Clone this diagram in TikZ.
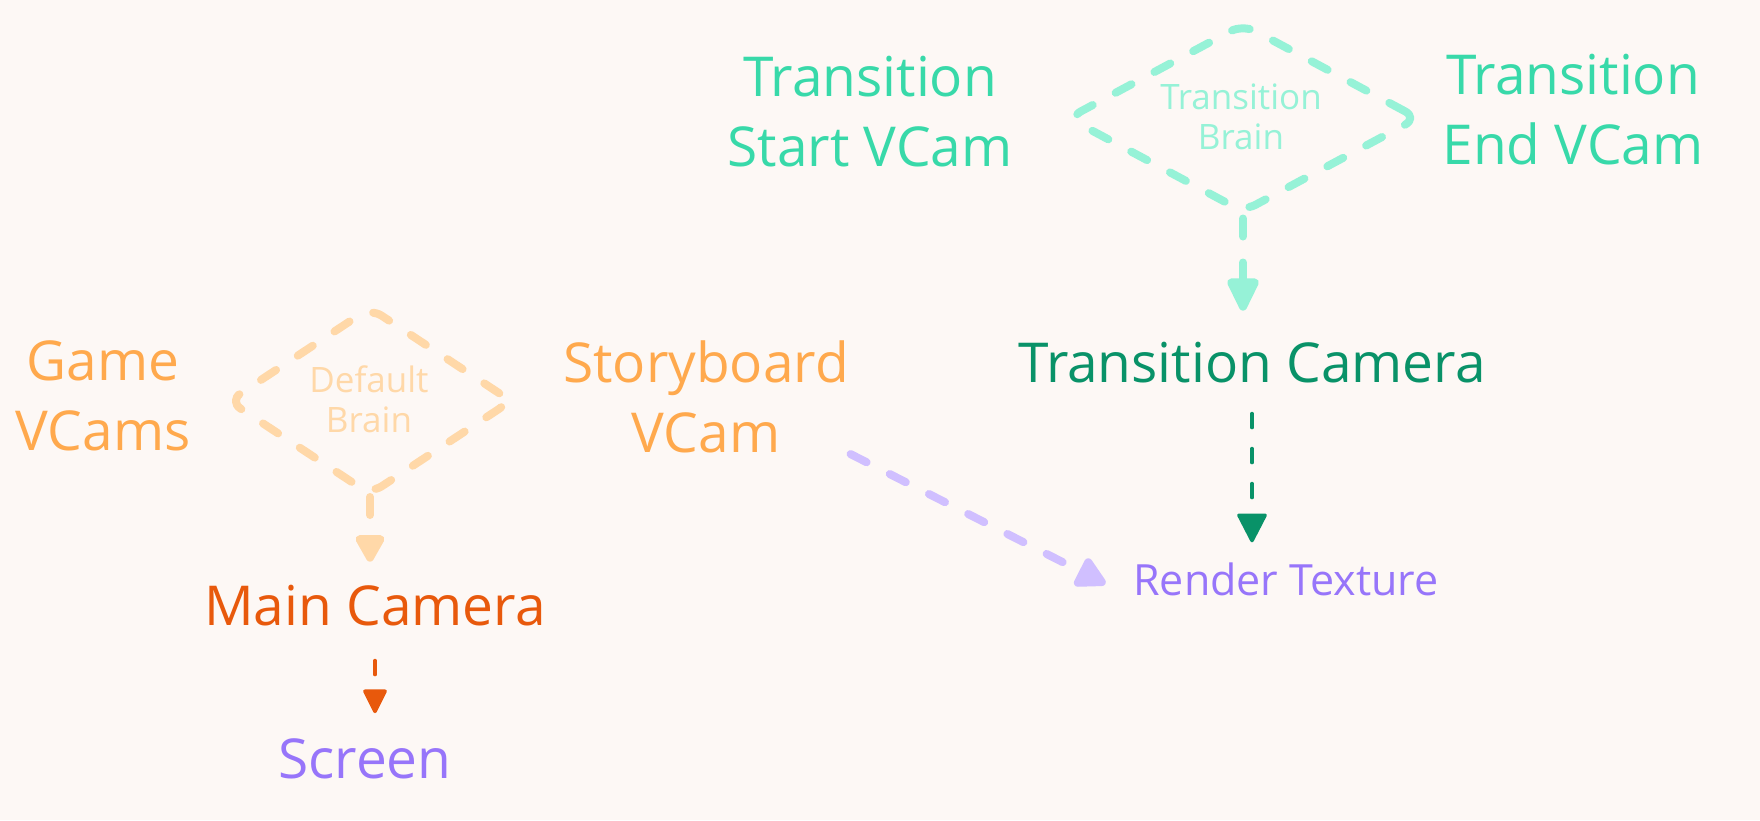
\documentclass[tikz,border=0pt]{standalone}
\usepackage{fontspec}
\setmainfont{Open Sans}
\usetikzlibrary{arrows.meta,shapes.geometric}
\definecolor{bgc}{HTML}{FDF8F5}
\definecolor{cTeal}{HTML}{38D9A9}
\definecolor{cTealLight}{HTML}{96F2D7}
\definecolor{cTealDark}{HTML}{099268}
\definecolor{cOrange}{HTML}{FFA94D}
\definecolor{cOrangeLight}{HTML}{FFD8A8}
\definecolor{cOrangeDark}{HTML}{E8590C}
\definecolor{cViolet}{HTML}{9775FA}
\definecolor{cVioletLight}{HTML}{D0BFFF}
\begin{document}
\begin{tikzpicture}[x=1pt,y=-1pt,
  big/.style={font=\fontsize{55}{70}\selectfont, inner sep=0pt, outer sep=0pt, align=center},
  medium/.style={font=\fontsize{43}{52}\selectfont, inner sep=0pt, outer sep=0pt},
  small/.style={font=\fontsize{35}{40}\selectfont, inner sep=0pt, outer sep=0pt, align=center},
  brainbox/.style={shape=diamond, draw, line width=8pt, dash pattern=on 18pt off 26pt,
    line cap=round, line join=round, rounded corners=14pt, inner sep=0pt, outer sep=0pt},
  thickarrow/.style={line width=8pt, dash pattern=on 18pt off 26pt, line cap=round},
  thinarrow/.style={line width=3.5pt, dash pattern=on 14pt off 21pt, line cap=round}
]
\fill[bgc] (0,0) rectangle (1760,820);
\useasboundingbox (0,0) rectangle (1760,820);

% top group
\node[brainbox, draw=cTealLight, minimum width=349pt, minimum height=187pt] (tb) at (1243,118) {};
\node[small, text=cTealLight] (tbt) at (1241,117) {Transition\\Brain};
\node[big, text=cTeal] (ts) at (870,112) {Transition\\Start VCam};
\node[big, text=cTeal] (te) at (1573,110) {Transition\\End VCam};
\node[big, text=cTealDark, anchor=base] (tc) at (1252,382) {Transition Camera};
\node[medium, text=cViolet, anchor=base] (rt) at (1286,595) {Render Texture};

% left group
\node[big, text=cOrange] (gv) at (103,396) {Game\\VCams};
\node[brainbox, draw=cOrangeLight, minimum width=282pt, minimum height=186pt] (db) at (370,401) {};
\node[small, text=cOrangeLight] (dbt) at (369,399) {Default\\Brain};
\node[big, text=cOrange] (sv) at (706,397) {Storyboard\\VCam};
\node[big, text=cOrangeDark, anchor=base] (mc) at (375,625) {Main Camera};
\node[big, text=cViolet, anchor=base] (sc) at (365,778) {Screen};

% connectors
\draw[thickarrow, cTealLight, -{Triangle[length=38pt,width=34pt,round]}, shorten <=7pt, shorten >=31pt]
  (tb.south) -- (tb.south |- tc.north);
\draw[thinarrow, cTealDark, -{Triangle[length=31pt,width=31pt,round]}, shorten <=31pt, shorten >=20pt]
  (tc.south) -- (tc.south |- rt.north);
\draw[thickarrow, cOrangeLight, -{Triangle[length=31pt,width=32pt,round]}, shorten <=3pt, shorten >=23pt]
  (db.south) -- (db.south |- mc.north);
\draw[thinarrow, cOrangeDark, -{Triangle[length=26pt,width=25pt,round]}, shorten <=35pt, shorten >=25pt]
  (mc.south) -- (mc.south |- sc.north);
\draw[thickarrow, cVioletLight, -{Triangle[length=34pt,width=34pt,round]}, shorten <=2pt]
  (sv.south east) -- ([shift={(-28,5)}]rt.west);
\end{tikzpicture}
\end{document}
